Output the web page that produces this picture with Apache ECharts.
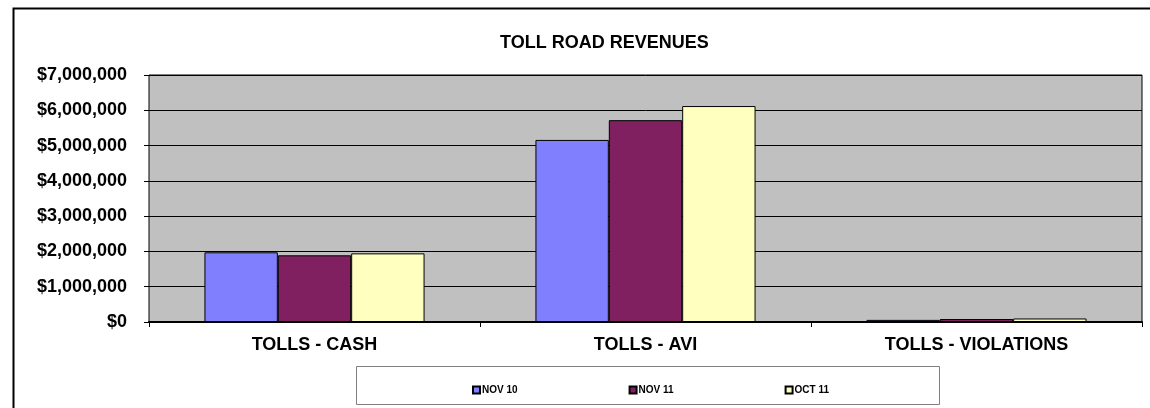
<!DOCTYPE html>
<html>
<head>
<meta charset="utf-8">
<script src="https://cdn.jsdelivr.net/npm/echarts@6/dist/echarts.min.js"></script>
<style>
  html, body { margin: 0; padding: 0; background: #fff; }
  #chart { width: 1150px; height: 408px; }
</style>
</head>
<body>
<div id="chart"></div>
<script>
var categories = ['TOLLS - CASH', 'TOLLS - AVI', 'TOLLS - VIOLATIONS'];
var seriesNames = ['NOV 10', 'NOV 11', 'OCT 11'];
var nov10 = [1975000, 5160000, 60000];
var nov11 = [1890000, 5720000, 85000];
var oct11 = [1945000, 6120000, 100000];
var colors = ['#8080FF', '#802060', '#FFFFC0'];

var chart = echarts.init(document.getElementById('chart'));

function money(v) {
    return '$' + String(v).replace(/\B(?=(\d{3})+(?!\d))/g, ',');
}

var data = [nov10, nov11, oct11];
var series = seriesNames.map(function (name, i) {
    return {
        name: name,
        type: 'bar',
        data: data[i],
        barGap: '0%',
        barCategoryGap: '33.5%',
        itemStyle: { color: colors[i], borderColor: '#000', borderWidth: 1 }
    };
});

var option = {
    animation: false,
    textStyle: { fontFamily: 'Liberation Sans, Arial, sans-serif' },
    graphic: [
        // outer chart frame (right/bottom run off the picture)
        { type: 'rect', left: 11, top: 6, shape: { width: 1300, height: 600 },
          style: { fill: 'none', stroke: '#000', lineWidth: 2 }, z: -1 },
        // legend box
        { type: 'rect', left: 356, top: 366, shape: { width: 583, height: 38 },
          style: { fill: '#fff', stroke: '#808080', lineWidth: 1 }, z: 0 }
    ],
    title: {
        text: 'TOLL ROAD REVENUES',
        left: 495,
        top: 29,
        textStyle: { fontSize: 18, fontWeight: 'bold', color: '#000', fontFamily: 'Liberation Sans' }
    },
    legend: {
        data: seriesNames,
        left: 467,
        top: 380,
        itemWidth: 7,
        itemHeight: 7,
        itemGap: 111,
        icon: 'rect',
        z: 5,
        textStyle: { fontSize: 10, fontWeight: 'bold', color: '#000', padding: [0, 0, 0, -3] }
    },
    grid: {
        left: 149,
        top: 75,
        right: 8,
        bottom: 86,
        show: true,
        backgroundColor: '#C0C0C0',
        borderColor: '#000',
        borderWidth: 1
    },
    xAxis: {
        type: 'category',
        data: categories,
        axisLine: { lineStyle: { color: '#000', width: 2 } },
        axisTick: { show: true, length: 5, lineStyle: { color: '#000' } },
        axisLabel: { fontSize: 18, fontWeight: 'bold', color: '#000', margin: 14 }
    },
    yAxis: {
        type: 'value',
        min: 0,
        max: 7000000,
        interval: 1000000,
        axisLine: { show: false },
        axisTick: { show: true, length: 5, lineStyle: { color: '#000' } },
        axisLabel: { fontSize: 18, fontWeight: 'bold', color: '#000', margin: 22, formatter: money },
        splitLine: { lineStyle: { color: '#000', width: 1 } }
    },
    series: series
};

chart.setOption(option);
</script>
</body>
</html>
